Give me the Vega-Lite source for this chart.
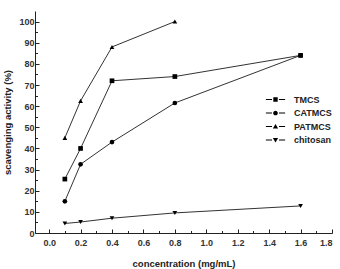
{
  "$schema": "https://vega.github.io/schema/vega-lite/v6.json",
  "width": 297,
  "height": 222,
  "autosize": "none",
  "padding": {"left": 35, "top": 11, "right": 8, "bottom": 36},
  "background": "white",
  "config": {
    "view": {"stroke": null},
    "font": "Liberation Sans",
    "axis": {"grid": false, "domainColor": "#222", "tickColor": "#222", "labelColor": "#333", "labelFontWeight": "bold", "labelFontSize": 9, "titleFontWeight": "bold", "titleFontSize": 9.5, "titleColor": "#222"}
  },
  "data": {
    "values": [
      {"c": 0.1, "v": 25.5, "s": "TMCS"},
      {"c": 0.2, "v": 40, "s": "TMCS"},
      {"c": 0.4, "v": 72, "s": "TMCS"},
      {"c": 0.8, "v": 74, "s": "TMCS"},
      {"c": 1.6, "v": 84, "s": "TMCS"},
      {"c": 0.1, "v": 15, "s": "CATMCS"},
      {"c": 0.2, "v": 32.5, "s": "CATMCS"},
      {"c": 0.4, "v": 43, "s": "CATMCS"},
      {"c": 0.8, "v": 61.5, "s": "CATMCS"},
      {"c": 1.6, "v": 84, "s": "CATMCS"},
      {"c": 0.1, "v": 45, "s": "PATMCS"},
      {"c": 0.2, "v": 62.5, "s": "PATMCS"},
      {"c": 0.4, "v": 88, "s": "PATMCS"},
      {"c": 0.8, "v": 100, "s": "PATMCS"},
      {"c": 0.1, "v": 4.5, "s": "chitosan"},
      {"c": 0.2, "v": 5.2, "s": "chitosan"},
      {"c": 0.4, "v": 7, "s": "chitosan"},
      {"c": 0.8, "v": 9.5, "s": "chitosan"},
      {"c": 1.6, "v": 12.8, "s": "chitosan"}
    ]
  },
  "layer": [
    {
      "mark": {"type": "line", "color": "#333", "strokeWidth": 1},
      "encoding": {
        "x": {"field": "c", "type": "quantitative", "scale": {"domain": [-0.09, 1.8], "nice": false, "zero": false},
          "axis": {"values": [0, 0.2, 0.4, 0.6, 0.8, 1.0, 1.2, 1.4, 1.6, 1.8], "format": ".1f", "tickSize": -4, "labelPadding": 9, "title": "concentration (mg/mL)", "titlePadding": 11}},
        "y": {"field": "v", "type": "quantitative", "scale": {"domain": [0, 105], "nice": false},
          "axis": {"values": [0, 10, 20, 30, 40, 50, 60, 70, 80, 90, 100], "tickSize": -4, "labelPadding": 5, "title": "scavenging activity (%)", "titlePadding": 6}},
        "detail": {"field": "s"}
      }
    },
    {
      "mark": {"type": "point", "filled": true, "color": "black", "size": 22, "opacity": 1},
      "encoding": {
        "x": {"field": "c", "type": "quantitative",
          "axis": {"values": [0.1, 0.3, 0.5, 0.7, 0.9, 1.1, 1.3, 1.5, 1.7], "labels": false, "domain": false, "tickSize": -2.5, "title": null, "orient": "bottom"}},
        "y": {"field": "v", "type": "quantitative",
          "axis": {"values": [5, 15, 25, 35, 45, 55, 65, 75, 85, 95], "labels": false, "domain": false, "tickSize": -2.5, "title": null, "orient": "left"}},
        "shape": {"field": "s", "type": "nominal", "legend": null,
          "scale": {"domain": ["TMCS", "CATMCS", "PATMCS", "chitosan"], "range": ["square", "circle", "triangle-up", "triangle-down"]}}
      }
    },
    {
      "mark": {"type": "point", "filled": true, "color": "black", "opacity": 0},
      "encoding": {
        "x": {"field": "c", "type": "quantitative", "axis": null},
        "y": {"field": "v", "type": "quantitative", "axis": null},
        "shape": {"field": "s", "type": "nominal",
          "scale": {"domain": ["TMCS", "CATMCS", "PATMCS", "chitosan"],
            "range": [
              "M-3.3,-0.16H-1.2V0.16H-3.3ZM1.2,-0.16H3.3V0.16H1.2ZM-0.75,-0.75H0.75V0.75H-0.75Z",
              "M-3.3,-0.16H-1.2V0.16H-3.3ZM1.2,-0.16H3.3V0.16H1.2ZM-0.8,0A0.8,0.8,0,1,0,0.8,0A0.8,0.8,0,1,0,-0.8,0Z",
              "M-3.3,-0.16H-1.2V0.16H-3.3ZM1.2,-0.16H3.3V0.16H1.2ZM0,-0.9L0.9,0.65H-0.9Z",
              "M-3.3,-0.16H-1.2V0.16H-3.3ZM1.2,-0.16H3.3V0.16H1.2ZM0,0.9L0.9,-0.65H-0.9Z"
            ]},
          "legend": {"title": null, "orient": "none", "legendX": 236, "legendY": 84, "padding": 0, "symbolSize": 34, "symbolOpacity": 1, "symbolFillColor": "#111", "symbolStrokeWidth": 0, "labelOffset": 14, "labelFontSize": 9, "labelFontWeight": "bold", "labelColor": "#222", "rowPadding": 3.5}
        }
      }
    }
  ],
  "resolve": {"axis": {"x": "independent", "y": "independent"}, "scale": {"shape": "independent"}, "legend": {"shape": "independent"}}
}
